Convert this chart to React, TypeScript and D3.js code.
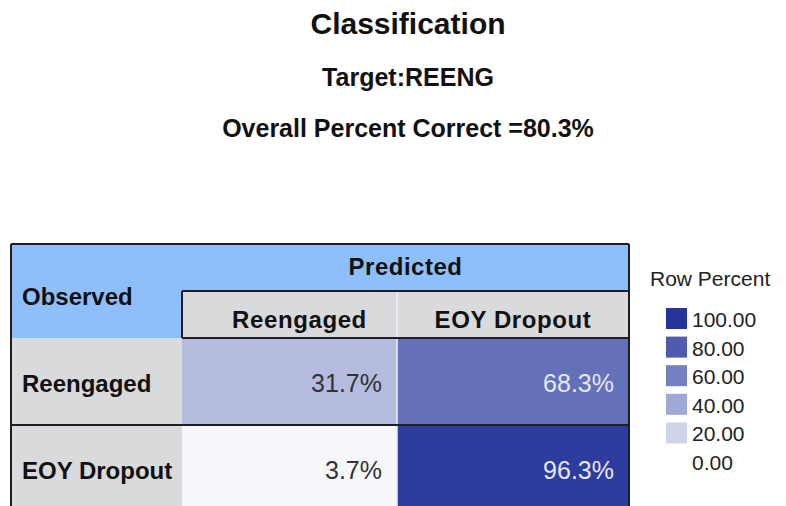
import React, { useEffect, useRef } from "react";
import * as d3 from "d3";

// values
const observed = ["Reengaged", "EOY Dropout"];
const predicted = ["Reengaged", "EOY Dropout"];
const reengagedRow = [31.7, 68.3];
const dropoutRow = [3.7, 96.3];
const legendTicks = [100, 80, 60, 40, 20, 0];
const titleText = "Classification";
const targetText = "Target:REENG";
const overallText = "Overall Percent Correct =80.3%";

const W = 786;
const H = 506;
const font = "'Liberation Sans', Arial, sans-serif";

const App = () => {
  const ref = useRef<SVGSVGElement | null>(null);

  useEffect(() => {
    document.body.style.margin = "0";
    const svg = d3.select(ref.current);
    svg.selectAll("*").remove();

    const color = d3.scaleLinear<string>().domain([0, 50, 100])
      .range(["#ffffff", "#8893cb", "#27359a"]);

    // titles
    const titles = svg.append("g").attr("font-family", font).attr("font-weight", "bold")
      .attr("text-anchor", "middle").attr("fill", "#111");
    titles.append("text").attr("x", 408).attr("y", 34).attr("font-size", 30).text(titleText);
    titles.append("text").attr("x", 408).attr("y", 86).attr("font-size", 25).text(targetText);
    titles.append("text").attr("x", 408).attr("y", 137).attr("font-size", 25).text(overallText);

    // table layout
    const left = 11, labelRight = 182, right = 629, top = 244, h1 = 291, h2 = 338;
    const colX = d3.scaleOrdinal<string, number>().domain(predicted).range([labelRight, 397]);
    const colW = d3.scaleOrdinal<string, number>().domain(predicted).range([397 - labelRight, right - 397]);
    const headShift = d3.scaleOrdinal<string, number>().domain(predicted).range([10, 0]);
    const y = d3.scaleBand().domain(observed).range([h2, h2 + 87 * observed.length]);

    const rows = [reengagedRow, dropoutRow];
    const cells = observed.flatMap((o, i) =>
      predicted.map((p, j) => ({ o, p, v: rows[i][j] }))
    );

    const t = svg.append("g").attr("font-family", font);

    // header backgrounds
    t.append("rect").attr("x", left).attr("y", top).attr("width", right - left).attr("height", h2 - top).attr("fill", "#8ebffa");
    t.selectAll(".hcell").data(predicted).enter().append("rect")
      .attr("x", (d) => colX(d)).attr("y", h1).attr("width", (d) => colW(d)).attr("height", h2 - h1)
      .attr("fill", "#d9dadc");
    // row label backgrounds
    t.selectAll(".rcell").data(observed).enter().append("rect")
      .attr("x", left).attr("y", (d) => y(d)!).attr("width", labelRight - left).attr("height", y.bandwidth())
      .attr("fill", "#d9dadc");
    // data cells
    t.selectAll(".cell").data(cells).enter().append("rect")
      .attr("x", (d) => colX(d.p)).attr("y", (d) => y(d.o)!)
      .attr("width", (d) => colW(d.p)).attr("height", y.bandwidth())
      .attr("fill", (d) => color(d.v));

    // thin light separator between predicted columns
    t.append("line").attr("x1", 397).attr("x2", 397).attr("y1", h1).attr("y2", H)
      .attr("stroke", "#eef0f6").attr("stroke-width", 1.5);

    // dark rules
    const dark = "#1e1e24";
    const rule = (x1: number, y1: number, x2: number, y2: number) =>
      t.append("line").attr("x1", x1).attr("y1", y1).attr("x2", x2).attr("y2", y2)
        .attr("stroke", dark).attr("stroke-width", 2);
    rule(left, top, right, top);
    rule(left, top, left, H);
    rule(right, top, right, H);
    rule(labelRight, h1, right, h1);
    rule(labelRight, h2, right, h2);
    rule(labelRight, h1, labelRight, h2);
    observed.slice(1).forEach((o) => rule(left, y(o)!, right, y(o)!));

    // header texts
    t.append("text").attr("x", (labelRight + right) / 2).attr("y", 275).attr("text-anchor", "middle")
      .attr("font-size", 24).attr("font-weight", "bold").attr("letter-spacing", 0.5).attr("fill", "#111").text("Predicted");
    t.append("text").attr("x", 22).attr("y", 305)
      .attr("font-size", 24).attr("font-weight", "bold").attr("fill", "#111").text("Observed");
    t.selectAll(".htext").data(predicted).enter().append("text")
      .attr("x", (d) => colX(d) + colW(d) / 2 + headShift(d)).attr("y", 328).attr("text-anchor", "middle")
      .attr("font-size", 24).attr("font-weight", "bold").attr("letter-spacing", 0.6).attr("fill", "#111").text((d) => d);
    t.selectAll(".rtext").data(observed).enter().append("text")
      .attr("x", 22).attr("y", (d) => y(d)! + y.bandwidth() / 2 + 10)
      .attr("font-size", 24).attr("font-weight", "bold").attr("fill", "#111").text((d) => d);
    t.selectAll(".vtext").data(cells).enter().append("text")
      .attr("x", (d) => colX(d.p) + colW(d.p) - 15).attr("y", (d) => y(d.o)! + y.bandwidth() / 2 + 10)
      .attr("text-anchor", "end").attr("font-size", 25)
      .attr("fill", (d) => (d.v > 50 ? "#e4e7f5" : "#333"))
      .text((d) => d.v.toFixed(1) + "%");

    // legend
    const lg = svg.append("g").attr("font-family", font).attr("fill", "#222");
    lg.append("text").attr("x", 650).attr("y", 286).attr("font-size", 21).text("Row Percent");
    const ly = d3.scalePoint<number>().domain(legendTicks).range([327, 470]);
    lg.selectAll(".sw").data(legendTicks.filter((d) => d > 0)).enter().append("rect")
      .attr("x", 666).attr("y", (d) => ly(d)! - 19).attr("width", 21).attr("height", 21)
      .attr("fill", (d) => color(d));
    lg.selectAll(".lt").data(legendTicks).enter().append("text")
      .attr("x", 692).attr("y", (d) => ly(d)!).attr("font-size", 21)
      .text((d) => d.toFixed(2));
  }, []);

  return <svg ref={ref} width={W} height={H} style={{ display: "block", background: "#fff" }} />;
};

export default App;
